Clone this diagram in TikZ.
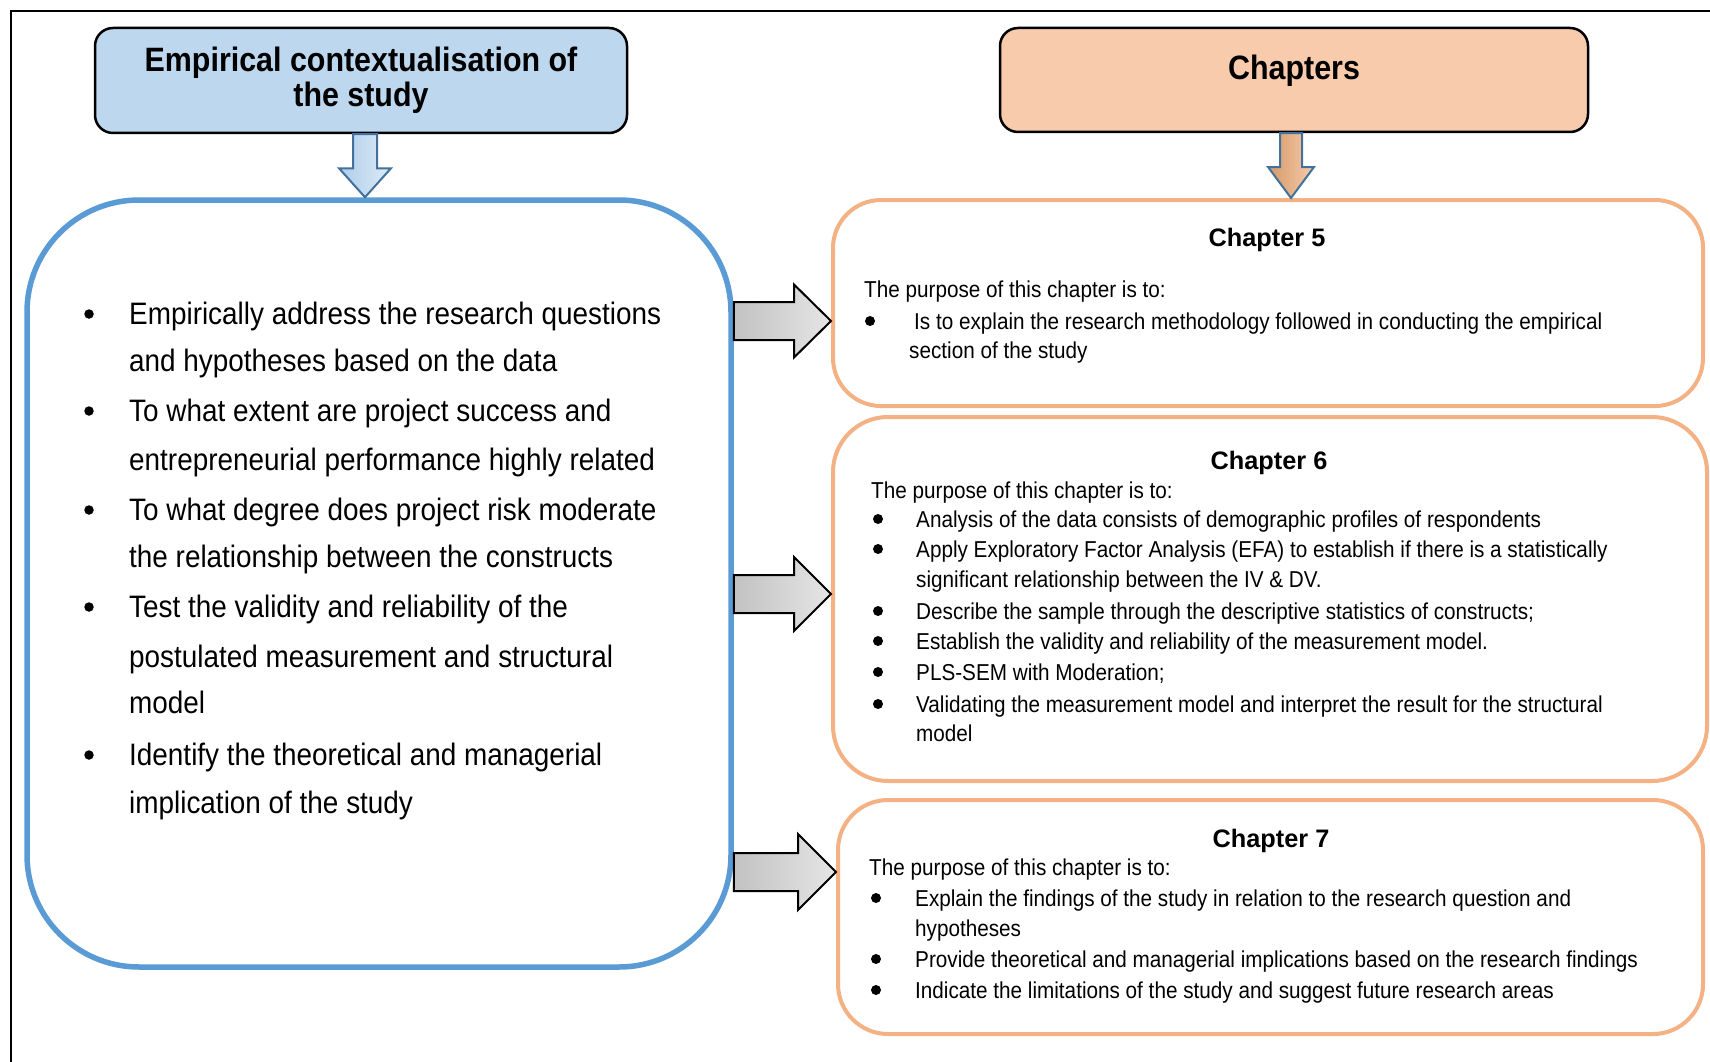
\documentclass[tikz,border=0pt]{standalone}
\usepackage{fontspec}
\setmainfont{Liberation Sans}
\newfontfamily\condfont[FakeStretch=0.9]{Liberation Sans}
\usetikzlibrary{calc}

\definecolor{headblue}{HTML}{BDD7EE}
\definecolor{headpeach}{HTML}{F8CBAD}
\definecolor{boxblue}{HTML}{5B9BD5}
\definecolor{boxorange}{HTML}{F4B183}
\definecolor{arrowedge}{HTML}{41719C}

% horizontal block arrow: style, start, end, shaft half-width, head half-width, head length
\newcommand\hblock[6]{%
  \draw[#1] let \p1=(#2), \p2=(#3) in
    (\x1,\y1+#4) -- (\x2-#6,\y1+#4) -- (\x2-#6,\y1+#5) -- (\x2,\y1)
    -- (\x2-#6,\y1-#5) -- (\x2-#6,\y1-#4) -- (\x1,\y1-#4) -- cycle;}
% vertical (downward) block arrow
\newcommand\vblock[6]{%
  \draw[#1] let \p1=(#2), \p2=(#3) in
    (\x1-#4,\y1) -- (\x1-#4,\y2+#6) -- (\x1-#5,\y2+#6) -- (\x1,\y2)
    -- (\x1+#5,\y2+#6) -- (\x1+#4,\y2+#6) -- (\x1+#4,\y1) -- cycle;}

\begin{document}
\begin{tikzpicture}[x=1pt,y=-1pt,
  headbox/.style={draw=black, line width=2.5pt, rounded corners=18pt, inner sep=0pt},
  bigbox/.style={draw=boxblue, line width=5.5pt, rounded corners=112pt, inner sep=0pt},
  chapbox/.style={draw=boxorange, line width=4pt, inner sep=0pt},
  headtext/.style={font=\condfont\bfseries\fontsize{33.8}{35}\selectfont, anchor=base, inner sep=0pt},
  lbody/.style={font=\condfont\fontsize{31}{37}\selectfont, anchor=base west, inner sep=0pt},
  cbody/.style={font=\condfont\fontsize{23}{28}\selectfont, anchor=base west, inner sep=0pt},
  ctitle/.style={font=\bfseries\fontsize{25.3}{30}\selectfont, anchor=base, inner sep=0pt},
  lbul/.style={circle, fill=black, inner sep=0pt, minimum size=9.5pt, yshift=10pt},
  cbul/.style={circle, fill=black, inner sep=0pt, minimum size=10pt, yshift=8pt},
  grayarrow/.style={draw=black, line width=2pt, line join=miter, left color=black!24, right color=black!10},
  bluearrow/.style={draw=arrowedge, line width=2pt, line join=miter, left color=boxblue!50, right color=headblue!50},
  brownarrow/.style={draw=arrowedge, line width=2pt, line join=miter, left color=brown!65!headpeach, right color=headpeach}
]
\useasboundingbox (0,0) rectangle (1710,1062);
\fill[white] (0,0) rectangle (1710,1062);

% outer frame
\draw[line width=2pt] (11,1062) -- (11,11) -- (1710,11);

% header boxes
\node[headbox, fill=headblue, minimum width=532pt, minimum height=105pt] (lhead) at (361,80.5) {};
\node[headtext] (lheadA) at (361,72) {Empirical contextualisation of};
\node[headtext] (lheadB) at (361,107) {the study};

\node[headbox, fill=headpeach, minimum width=588pt, minimum height=104pt] (chap) at (1294,80) {};
\node[headtext] (chapT) at (1294,80) {Chapters};

% main content boxes
\node[bigbox, minimum width=704pt, minimum height=767pt] (big) at (379,583.5) {};
\node[chapbox, rounded corners=48pt, minimum width=870pt, minimum height=206pt] (ch5) at (1268,303) {};
\node[chapbox, rounded corners=55pt, minimum width=874pt, minimum height=364pt] (ch6) at (1270,599) {};
\node[chapbox, rounded corners=50pt, minimum width=865pt, minimum height=234pt] (ch7) at (1270.5,917) {};

% downward arrows
\vblock{bluearrow}{lhead.south -| 365,0}{big.north -| 365,0}{12pt}{26pt}{29pt}
\vblock{brownarrow}{chap.south -| 1291,0}{ch5.north -| 1291,0}{11pt}{23pt}{31pt}

% arrows into the chapter boxes
\hblock{grayarrow}{big.east |- 0,321}{ch5.west |- 0,321}{19pt}{36.5pt}{37pt}
\hblock{grayarrow}{big.east |- 0,594}{ch6.west |- 0,594}{19pt}{37pt}{37pt}
\hblock{grayarrow}{big.east |- 0,872}{ch7.west |- 0,872}{19pt}{38pt}{38pt}

% empirical objectives
\node[lbul] (lb1) at (89,324) {};
\node[lbody] (l1) at (129,324) {Empirically address the research questions};
\node[lbody] (l2) at (129,371) {and hypotheses based on the data};
\node[lbul] (lb2) at (89,421) {};
\node[lbody] (l3) at (129,421) {To what extent are project success and};
\node[lbody] (l4) at (129,470) {entrepreneurial performance highly related};
\node[lbul] (lb3) at (89,520) {};
\node[lbody] (l5) at (129,520) {To what degree does project risk moderate};
\node[lbody] (l6) at (129,567) {the relationship between the constructs};
\node[lbul] (lb4) at (89,617) {};
\node[lbody] (l7) at (129,617) {Test the validity and reliability of the};
\node[lbody] (l8) at (129,667) {postulated measurement and structural};
\node[lbody] (l9) at (129,713) {model};
\node[lbul] (lb5) at (89,765) {};
\node[lbody] (l10) at (129,765) {Identify the theoretical and managerial};
\node[lbody] (l11) at (129,813) {implication of the study};

% chapter 5
\node[ctitle] (c5t) at (1267,246) {Chapter 5};
\node[cbody] (c5p) at (864,297) {The purpose of this chapter is to:};
\node[cbul] (c5b1) at (870,329) {};
\node[cbody] (c5a) at (914,329) {Is to explain the research methodology followed in conducting the empirical};
\node[cbody] (c5b) at (909,358) {section of the study};

% chapter 6
\node[ctitle] (c6t) at (1269,469) {Chapter 6};
\node[cbody] (c6p) at (871,498) {The purpose of this chapter is to:};
\node[cbul] (c6b1) at (878,527) {};
\node[cbody] (c6a) at (916,527) {Analysis of the data consists of demographic profiles of respondents};
\node[cbul] (c6b2) at (878,557) {};
\node[cbody] (c6b) at (916,557) {Apply Exploratory Factor Analysis (EFA) to establish if there is a statistically};
\node[cbody] (c6c) at (916,587) {significant relationship between the IV \& DV.};
\node[cbul] (c6b3) at (878,619) {};
\node[cbody] (c6d) at (916,619) {Describe the sample through the descriptive statistics of constructs;};
\node[cbul] (c6b4) at (878,649) {};
\node[cbody] (c6e) at (916,649) {Establish the validity and reliability of the measurement model.};
\node[cbul] (c6b5) at (878,680) {};
\node[cbody] (c6f) at (916,680) {PLS-SEM with Moderation;};
\node[cbul] (c6b6) at (878,712) {};
\node[cbody] (c6g) at (916,712) {Validating the measurement model and interpret the result for the structural};
\node[cbody] (c6h) at (916,741) {model};

% chapter 7
\node[ctitle] (c7t) at (1271,847) {Chapter 7};
\node[cbody] (c7p) at (869,875) {The purpose of this chapter is to:};
\node[cbul] (c7b1) at (876,906) {};
\node[cbody] (c7a) at (915,906) {Explain the findings of the study in relation to the research question and};
\node[cbody] (c7b) at (915,936) {hypotheses};
\node[cbul] (c7b2) at (876,967) {};
\node[cbody] (c7c) at (915,967) {Provide theoretical and managerial implications based on the research findings};
\node[cbul] (c7b3) at (876,998) {};
\node[cbody] (c7d) at (915,998) {Indicate the limitations of the study and suggest future research areas};
\end{tikzpicture}
\end{document}
